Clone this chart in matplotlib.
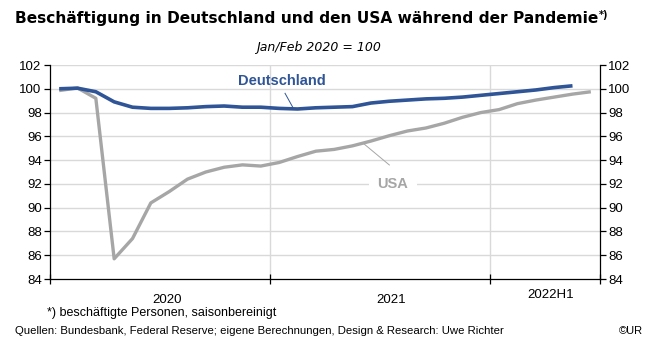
import matplotlib.pyplot as plt
import numpy as np

# monthly values, Jan 2020 .. Jun 2022 (Jan/Feb 2020 = 100)
deutschland = [100.0, 100.05, 99.75, 98.9, 98.45, 98.35, 98.35, 98.4, 98.5, 98.55,
               98.45, 98.45, 98.35, 98.3, 98.4, 98.45, 98.5, 98.8, 98.95, 99.05,
               99.15, 99.2, 99.3, 99.45, 99.6, 99.75, 99.9, 100.1, 100.25]
usa = [99.85, 100.07, 99.2, 85.7, 87.4, 90.4, 91.35, 92.4, 93.0, 93.4,
       93.6, 93.5, 93.8, 94.3, 94.75, 94.9, 95.2, 95.6, 96.05, 96.45,
       96.7, 97.1, 97.6, 98.0, 98.25, 98.75, 99.05, 99.3, 99.55, 99.75]
year_labels = ['2020', '2021', '2022H1']
year_pos = [6.4, 18.6, 27.3]

blue = '#2F5597'
grey = '#A6A6A6'
sans = ['Liberation Sans', 'DejaVu Sans']

fig = plt.figure(figsize=(6.5, 3.48), dpi=100)
ax = fig.add_axes([50 / 650, 1 - 279 / 348, 550 / 650, 214 / 348])

x_de = np.arange(len(deutschland)) + 0.5
x_us = np.arange(len(usa)) + 0.5
ax.plot(x_us, usa, color=grey, lw=2.4, solid_capstyle='butt', zorder=3)
ax.plot(x_de, deutschland, color=blue, lw=2.6, solid_capstyle='butt', zorder=4)

ax.set_xlim(0, 30)
ax.set_ylim(84, 102)
ax.set_yticks(np.arange(84, 103, 2))
ax.set_xticks([0, 12, 24, 30])
ax.set_xticklabels([])
for yv in np.arange(86, 103, 2):
    ax.axhline(yv, color='#d9d9d9', lw=1, zorder=1)
for xv in [12, 24]:
    ax.axvline(xv, color='#d9d9d9', lw=1, zorder=1)

ax.spines['top'].set_visible(False)
for s in ['left', 'right', 'bottom']:
    ax.spines[s].set_linewidth(0.9)
ax.tick_params(axis='y', direction='out', length=4, width=0.9, right=True,
               labelright=True, labelsize=9.5, pad=2)
ax.tick_params(axis='x', direction='inout', length=7, width=0.9)
for lab in ax.get_yticklabels():
    lab.set_family(sans)

for lbl, xp in zip(year_labels, year_pos):
    yoff = -11 if lbl != '2022H1' else -7
    ax.annotate(lbl, xy=(xp, 84), xytext=(0, yoff), textcoords='offset points',
                ha='center', va='top', fontsize=9.5, family=sans)

# labels with leader lines
ax.text(12.66, 100.65, 'Deutschland', color=blue, fontsize=10.5, fontweight='bold',
        ha='center', va='center', family=sans, zorder=5)
ax.plot([12.82, 13.24], [99.62, 98.45], color=blue, lw=0.7, zorder=5)
ax.text(18.7, 92.0, 'USA', color=grey, fontsize=10.5, fontweight='bold',
        ha='center', va='center', family=sans, zorder=5,
        bbox=dict(boxstyle='square,pad=0.6', fc='white', ec='none'))
ax.plot([17.09, 18.51], [95.41, 93.59], color=grey, lw=0.7, zorder=5)

title = fig.text(15 / 650, 1 - 19 / 348,
                 'Beschäftigung in Deutschland und den USA während der Pandemie',
                 ha='left', va='center', fontsize=11.1, fontweight='bold',
                 family='DejaVu Sans')
fig.canvas.draw()
fig.text(0, 0, '*)', fontsize=7, fontweight='bold', family='DejaVu Sans',
         ha='left', va='top', transform=None)
tb = title.get_window_extent()
fig.texts[-1].set_position((tb.x1 + 1, tb.y1 + 1))
fig.texts[-1].set_transform(plt.matplotlib.transforms.IdentityTransform())
fig.text(0.49, 1 - 47 / 348, 'Jan/Feb 2020 = 100', ha='center', va='center',
         fontsize=9, style='italic', family='DejaVu Sans')

fig.text(47 / 650, 1 - 313 / 348, '*) beschäftigte Personen, saisonbereinigt',
         ha='left', va='center', fontsize=9, family=sans)
fig.text(15 / 650, 1 - 331 / 348,
         'Quellen: Bundesbank, Federal Reserve; eigene Berechnungen, Design & Research: Uwe Richter',
         ha='left', va='center', fontsize=8.2, family=sans)
fig.text(643 / 650, 1 - 331 / 348, '©UR', ha='right', va='center', fontsize=8, family=sans)

fig.savefig('out.png', dpi=100)
